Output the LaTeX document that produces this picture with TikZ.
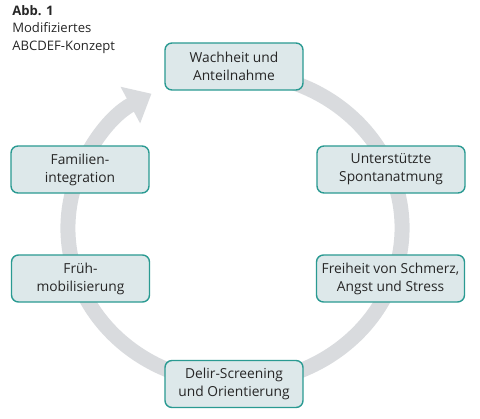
\documentclass[tikz,border=0pt]{standalone}
\usepackage{fontspec}
\setmainfont{Open Sans}
\usepackage{xcolor}
\usepackage{tikz}
\usetikzlibrary{arrows.meta,positioning}

\definecolor{boxfill}{HTML}{DDE8EA}
\definecolor{boxline}{HTML}{2A9A92}
\definecolor{ringgray}{HTML}{D9DBDE}

\begin{document}
\begin{tikzpicture}[
  x=0.025cm, y=0.025cm,
  every node/.style={font=\fontsize{9.8}{12.8}\selectfont,text=black!85},
  stage/.style={rectangle,draw=boxline,line width=1pt,fill=boxfill,rounded corners=5pt,align=center,minimum width=3.45cm,minimum height=1.175cm,inner sep=2pt},
  widestage/.style={stage,minimum width=3.7cm},
  ring/.style={draw=ringgray,line width=0.375cm,-{Triangle[width=1cm,length=0.6cm]}},
  caption/.style={anchor=north west,align=left,inner sep=0pt,font=\fontsize{9.3}{12.6}\selectfont},
]
\useasboundingbox (0,0) rectangle (480,-419);

% cycle ring, behind the boxes
\draw[ring] (235,-228) ++(80:4.175cm and 3.875cm)
  arc[start angle=80,end angle=-240,x radius=4.175cm,y radius=3.875cm];

\node[caption] (title) at (12,-5) {\textbf{Abb. 1}\\Modifiziertes\\ABCDEF-Konzept};

\node[stage] (wach) at (234,-66.5) {Wachheit und\\Anteilnahme};
\node[widestage] (spont) at (391,-169.5) {Unterstützte\\Spontanatmung};
\node[widestage] (frei) at (390.5,-278.5) {Freiheit von Schmerz,\\Angst und Stress};
\node[stage] (delir) at (234,-384) {Delir-Screening\\und Orientierung};
\node[stage] (frueh) at (80.5,-278.5) {Früh-\\mobilisierung};
\node[stage] (fam) at (80,-169.5) {Familien-\\integration};
\end{tikzpicture}
\end{document}
